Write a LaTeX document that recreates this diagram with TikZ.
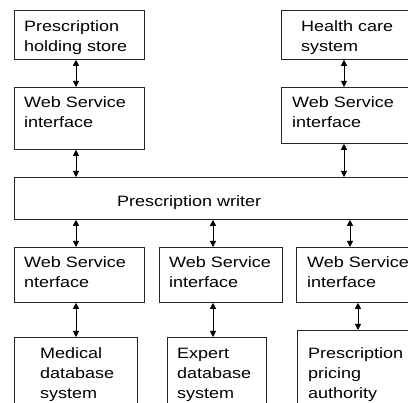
\documentclass[tikz,border=0pt]{standalone}
\usepackage{fontspec}
\setmainfont{Liberation Sans}[FakeStretch=1.2]
\usetikzlibrary{arrows.meta}
\begin{document}
\begin{tikzpicture}[x=1pt,y=-1pt,
  box/.style={draw=black!85,line width=0.8pt,rectangle,inner sep=0pt,anchor=north west},
  lbl/.style={anchor=base west,align=left,inner sep=0pt,font=\fontsize{15}{20}\selectfont},
  dbl/.style={line width=0.9pt,{Triangle[length=6pt,width=6pt]}-{Triangle[length=6pt,width=6pt]}}]
\useasboundingbox (0,0) rectangle (408,403);
\clip (0,0) rectangle (408,403);
% boxes
\node[box,minimum width=130pt,minimum height=49pt] (A) at (14,10) {};
\node[box,minimum width=130pt,minimum height=62pt] (B) at (14,87) {};
\node[box,minimum width=140pt,minimum height=49pt] (C) at (281,10) {};
\node[box,minimum width=140pt,minimum height=56pt] (D) at (281,87) {};
\node[box,minimum width=410pt,minimum height=42pt] (W) at (14,177) {};
\node[box,minimum width=130pt,minimum height=55pt] (E) at (14,247) {};
\node[box,minimum width=123pt,minimum height=55pt] (F) at (159,247) {};
\node[box,minimum width=130pt,minimum height=55pt] (G) at (296,247) {};
\node[box,minimum width=123pt,minimum height=80pt] (H) at (14,337) {};
\node[box,minimum width=99pt,minimum height=80pt] (I) at (167,337) {};
\node[box,minimum width=130pt,minimum height=90pt] (J) at (297,330) {};
% labels (base anchor = baseline of last line)
\node[lbl] (At) at ([shift={(10,42)}]A.north west) {Prescription\\holding store};
\node[lbl] (Bt) at ([shift={(10,41)}]B.north west) {Web Service\\interface};
\node[lbl] (Ct) at ([shift={(20,42)}]C.north west) {Health care\\system};
\node[lbl] (Dt) at ([shift={(11,41)}]D.north west) {Web Service\\interface};
\node[lbl] (Wt) at ([shift={(103,30)}]W.north west) {Prescription writer};
\node[lbl] (Et) at ([shift={(10,41)}]E.north west) {Web Service\\nterface};
\node[lbl] (Ft) at ([shift={(10,41)}]F.north west) {Web Service\\interface};
\node[lbl] (Gt) at ([shift={(11,41)}]G.north west) {Web Service\\interface};
\node[lbl] (Ht) at ([shift={(26,62)}]H.north west) {Medical\\database\\system};
\node[lbl] (It) at ([shift={(10,62)}]I.north west) {Expert\\database\\system};
\node[lbl] (Jt) at ([shift={(11,69)}]J.north west) {Prescription\\pricing\\authority};
% connectors
\draw[dbl] ([xshift=62pt]A.south west) -- ([xshift=62pt]B.north west);
\draw[dbl] ([xshift=62pt]B.south west) -- ([xshift=62pt]W.north west);
\draw[dbl] ([xshift=63pt]C.south west) -- ([xshift=63pt]D.north west);
\draw[dbl] ([xshift=63pt]D.south west) -- ([xshift=330pt]W.north west);
\draw[dbl] ([xshift=62pt]W.south west) -- ([xshift=62pt]E.north west);
\draw[dbl] ([xshift=199pt]W.south west) -- ([xshift=54pt]F.north west);
\draw[dbl] ([xshift=336pt]W.south west) -- ([xshift=54pt]G.north west);
\draw[dbl] ([xshift=62pt]E.south west) -- ([xshift=62pt]H.north west);
\draw[dbl] ([xshift=54pt]F.south west) -- ([xshift=46pt]I.north west);
\draw[dbl] ([xshift=62pt]G.south west) -- ([xshift=61pt]J.north west);
\end{tikzpicture}
\end{document}
